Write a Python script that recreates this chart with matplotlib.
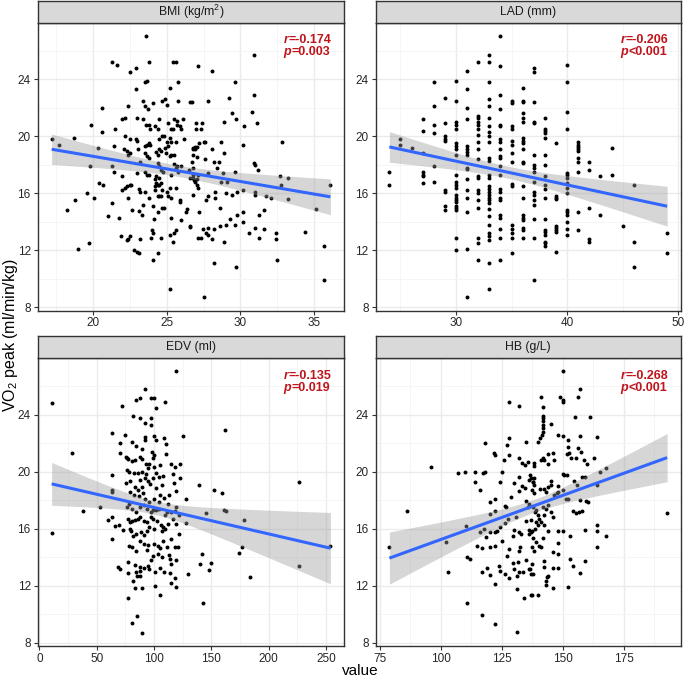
import numpy as np
import matplotlib
matplotlib.use('Agg')
import matplotlib.pyplot as plt
from matplotlib.ticker import MultipleLocator, FixedLocator

plt.rcParams['font.family'] = ['Liberation Sans', 'DejaVu Sans']
plt.rcParams['mathtext.fontset'] = 'custom'
plt.rcParams['mathtext.rm'] = 'Liberation Sans'
plt.rcParams['mathtext.it'] = 'Liberation Sans:italic'
plt.rcParams['mathtext.bf'] = 'Liberation Sans:bold'

# ---------------- data (value, VO2 peak) ----------------
bmi_points = [
    (23.6,27.0),(21.3,25.2),(21.6,25.0),(23.8,25.2),(25.4,25.2),(25.6,25.2),(22.5,24.5),(22.9,24.8),(23.5,23.8),(23.65,23.9),
    (25.8,23.8),(22.9,23.3),(25.2,23.4),(20.6,22.0),(22.4,22.1),(23.4,22.5),(23.55,22.1),(23.76,21.9),(24.1,22.3),(24.7,22.5),
    (24.9,22.6),(25.0,22.2),(25.8,22.5),(26.6,22.4),(19.9,20.8),(20.6,20.3),(21.5,20.5),(22.0,21.2),(22.2,21.3),(22.97,21.3),
    (23.4,21.2),(23.6,20.8),(23.8,20.8),(24.2,20.7),(24.4,20.5),(24.5,21.2),(23.9,20.5),(25.1,20.9),(25.3,20.5),(25.4,20.5),
    (25.5,21.2),(25.7,21.1),(25.7,20.8),(26.1,21.2),(25.9,20.7),(26.0,20.5),(17.2,19.8),(17.7,19.4),(18.7,19.9),(22.2,20.0),
    (22.5,19.8),(22.9,19.8),(23.0,19.7),(21.4,19.3),(20.35,19.2),(22.1,19.1),(22.3,19.0),(22.4,18.7),(22.5,18.8),(23.05,19.1),
    (23.5,19.3),(23.65,19.4),(23.8,19.5),(23.9,19.4),(23.5,18.8),(23.65,18.6),(23.78,18.5),(24.3,18.9),(24.4,18.7),(24.5,19.8),
    (24.7,20.0),(24.8,20.0),(25.0,19.6),(25.2,19.9),(25.3,19.6),(25.6,19.6),(26.2,19.8),(24.9,19.2),(25.1,19.3),(24.96,18.85),
    (25.2,18.6),(25.3,18.7),(25.5,18.7),(24.5,19.1),(24.6,19.0),(26.8,19.2),(26.8,19.1),(23.2,18.2),(19.8,17.9),(21.3,17.9),
    (21.4,17.5),(21.96,17.2),(23.0,17.4),(23.5,17.5),(23.65,17.3),(23.8,17.3),(24.4,18.1),(24.5,17.9),(24.3,17.2),(24.5,17.1),
    (24.6,17.6),(24.75,17.5),(25.3,17.25),(25.5,18.07),(25.6,17.8),(25.7,17.95),(25.8,17.5),(26.0,17.9),(26.5,17.6),(26.7,18.2),
    (26.8,17.8),(26.8,17.1),(26.85,16.9),(20.4,16.7),(20.7,16.6),(22.2,16.4),(22.3,16.5),(22.5,16.6),(22.6,16.6),(22.0,16.2),
    (22.4,15.7),(23.1,16.3),(23.2,16.1),(24.2,17.0),(24.2,16.5),(24.3,16.7),(24.4,16.6),(24.5,16.6),(24.6,16.7),(24.2,16.2),
    (24.4,15.8),(24.5,15.8),(24.65,16.2),(24.6,15.8),(25.0,16.1),(25.1,15.8),(25.25,16.35),(25.3,15.7),(25.6,16.4),(25.9,15.55),
    (25.9,15.4),(23.5,16.1),(19.6,16.0),(18.8,15.5),(20.1,15.7),(21.3,15.3),(18.25,14.8),(21.0,14.4),(21.8,14.3),(22.65,14.8),
    (23.1,14.75),(23.3,14.5),(23.4,15.2),(23.8,15.7),(24.05,15.1),(24.15,14.2),(24.4,14.7),(24.7,15.0),(24.8,15.0),(25.3,14.3),
    (26.0,14.1),(26.3,14.7),(26.35,14.9),(26.6,13.7),(21.9,13.0),(22.4,12.8),(22.5,13.0),(22.3,12.7),(23.2,12.8),(24.0,13.4),
    (24.1,13.2),(23.96,12.9),(24.6,12.9),(25.2,13.1),(25.5,13.2),(25.6,13.4),(25.4,12.6),(22.8,12.0),(22.96,11.9),(23.1,11.8),
    (19.0,12.1),(19.7,12.5),(24.4,11.8),(24.1,11.3),(25.2,9.3),
    (30.9,25.7),(27.1,24.9),(28.1,24.6),(29.6,23.8),(30.9,22.9),(26.7,22.4),(27.8,22.5),(29.2,22.7),(30.8,21.7),(29.4,21.6),
    (29.7,21.2),(28.9,21.0),(30.25,20.7),(31.1,20.9),(27.0,20.9),(27.4,20.9),(27.3,20.5),(27.0,20.5),(27.5,19.6),(27.6,19.6),
    (27.2,19.5),(26.94,19.25),(27.05,19.25),(26.9,19.1),(26.8,18.7),(27.05,18.55),(28.7,19.6),(28.1,19.1),(28.9,18.8),(30.2,19.4),
    (32.8,19.6),(27.6,18.4),(28.2,18.2),(28.55,18.2),(28.4,17.8),(30.9,18.1),(31.0,18.0),(31.2,17.6),(29.6,17.5),(27.8,17.4),
    (28.8,17.4),(26.8,17.25),(26.6,17.05),(27.05,17.0),(26.94,16.8),(27.05,16.55),(27.1,16.35),(26.8,15.9),(27.1,17.25),(28.7,16.8),
    (29.1,16.8),(32.7,17.2),(33.2,17.1),(32.75,16.6),(30.2,16.2),(31.0,16.1),(31.0,15.85),(29.8,16.1),(29.4,15.85),(29.0,16.0),
    (28.6,15.0),(28.3,16.1),(28.3,15.7),(27.8,15.8),(27.7,15.5),(27.2,14.7),(31.75,15.8),(32.1,15.7),(33.2,15.6),(35.1,14.9),
    (36.1,16.6),(29.8,14.5),(30.2,14.7),(29.3,14.2),(29.0,13.8),(29.6,13.8),(28.6,13.7),(28.2,13.5),(27.8,13.6),(27.45,13.5),
    (27.7,13.2),(27.8,13.05),(28.1,12.8),(27.1,12.9),(27.3,12.9),(26.6,13.65),(30.2,14.0),(30.6,13.2),(31.0,13.6),(31.25,12.9),
    (31.6,13.5),(31.25,14.5),(31.6,14.8),(32.4,13.2),(32.4,12.8),(34.4,13.3),(35.7,12.3),(28.9,12.6),(28.2,11.1),(29.7,10.8),
    (32.5,11.3),(35.7,9.9),(27.5,8.7),
]

lad_points = [
    (24,17.5),(24,16.6),(25,19.8),(25,19.4),(26,19.2),
    (27,21.2),(27,20.4),(27,18.8),(27,17.5),(27,17.3),(27,17.2),(27,16.7),
    (28,23.8),(28,22.1),(28,20.8),(28,20.2),(28,17.9),(28,16.8),
    (29,22.7),(29,20.9),(29,20.0),(29,19.8),(29,19.7),(29,16.2),(29,16.1),(29,15.1),(29,14.8),
    (30,23.9),(30,22.5),(30,21.0),(30,20.8),(30,20.5),(30,19.5),(30,19.3),(30,19.1),(30,18.7),(30,17.3),(30,16.8),
    (30,16.6),(30,16.4),(30,15.9),(30,15.7),(30,15.55),(30,15.4),(30,15.1),(30,15.0),(30,14.8),(30,12.9),(30,12.0),
    (31,24.6),(31,23.3),(31,22.0),(31,21.2),(31,19.3),(31,19.1),(31,18.9),(31,18.7),(31,17.8),(31,17.7),(31,17.0),
    (31,16.2),(31,15.7),(31,14.7),(31,12.1),(31,8.7),
    (32,25.2),(32,21.4),(32,21.25),(32,21.0),(32,20.8),(32,20.5),(32,20.1),(32,19.6),(32,19.1),(32,18.4),(32,17.2),
    (32,17.1),(32,16.2),(32,16.0),(32,15.5),(32,15.0),(32,12.9),(32,12.5),(32,11.3),
    (33,25.7),(33,25.2),(33,23.8),(33,22.6),(33,22.1),(33,21.3),(33,20.7),(33,20.3),(33,20.0),(33,19.6),(33,18.5),
    (33,18.3),(33,17.25),(33,17.1),(33,16.5),(33,16.3),(33,16.1),(33,15.9),(33,15.7),(33,15.5),(33,15.3),(33,14.9),
    (33,14.4),(33,13.8),(33,13.2),(33,13.0),(33,12.75),(33,11.1),(33,9.3),
    (34,27.0),(34,24.9),(34,22.9),(34,21.9),(34,20.8),(34,20.7),(34,19.8),(34,19.6),(34,19.1),(34,18.6),(34,18.5),
    (34,17.9),(34,17.3),(34,16.3),(34,16.1),(34,15.7),(34,15.55),(34,14.5),(34,14.3),(34,13.5),(34,12.9),(34,11.3),
    (35,22.5),(35,22.35),(35,20.7),(35,20.5),(35,19.7),(35,19.4),(35,18.8),(35,18.2),(35,16.65),(35,16.5),(35,13.8),
    (35,13.5),(35,13.2),(35,12.9),(35,11.8),
    (36,23.4),(36,22.5),(36,22.4),(36,21.6),(36,21.3),(36,21.0),(36,19.9),(36,19.7),(36,19.5),(36,19.1),(36,18.2),
    (36,18.1),(36,16.5),(36,15.7),(36,14.5),(36,14.3),(36,14.1),(36,13.6),(36,13.4),(36,12.9),
    (37,24.8),(37,24.5),(37,22.4),(37,21.0),(37,20.9),(37,18.7),(37,18.0),(37,17.8),(37,17.5),(37,16.8),(37,16.1),
    (37,15.9),(37,15.5),(37,15.2),(37,14.2),(37,12.9),(37,9.9),
    (38,21.3),(38,20.5),(38,20.4),(38,20.25),(38,19.9),(38,18.7),(38,18.0),(38,17.2),(38,16.6),(38,16.3),(38,15.7),
    (38,14.2),(38,13.4),(38,13.3),(38,13.1),(38,12.6),(38,12.5),(38,12.3),
    (39,19.5),(39,15.8),(39,15.7),(39,15.6),(39,13.7),(39,13.6),(39,13.4),(39,13.3),(39,11.9),
    (40,25.0),(40,23.8),(40,21.7),(40,20.5),(40,17.4),(40,17.25),(40,17.05),(40,16.7),(40,16.4),(40,16.0),(40,14.8),
    (40,14.7),(40,14.5),(40,14.0),(40,13.5),(40,13.1),
    (41,19.6),(41,19.4),(41,19.25),(41,19.1),(41,19.0),(41,18.5),(41,18.2),(41,17.5),(41,14.7),(41,13.4),
    (42,18.2),(42,17.6),(42,15.0),(42,12.8),(42,12.6),
    (43,17.2),(43,14.5),(44,19.2),(44,17.3),(45,13.7),(46,16.6),(46,12.6),(46,10.8),(49,13.2),(49,11.8),
]

edv_points = [
    (10.6,24.85),(119,27.06),(28.5,21.3),(38,17.25),(10.6,15.7),(52.9,17.5),(63.3,22.7),(71.7,24.6),(70,22.0),(70,21.3),
    (74.6,22.6),(63.3,19.8),(63.3,18.7),(63.3,18.6),(59.5,16.6),(63,16.8),(66,16.2),(69,16.3),(72.5,15.9),(63,15.3),
    (68.8,13.3),(70,13.2),(77.5,11.15),(81,9.4),(85,9.9),(89.6,8.7),(81.2,23.9),(88,23.8),(84.4,25.0),(87.6,25.2),
    (92.5,25.8),(96.9,25.2),(99.8,25.2),(109.6,24.9),(101.8,24.5),(96.9,23.8),(92.5,23.4),(97.7,23.3),(80.4,22.1),(84.4,21.8),
    (92.5,22.45),(92.5,22.2),(100.3,22.5),(101.8,22.2),(108.5,22.4),(125.3,22.5),(89.3,21.6),(98.0,21.41),(100.3,21.18),(110.5,21.93),
    (110.5,21.22),(99.5,20.94),(96.0,20.56),(93.1,20.56),(75.1,21.06),(76.3,20.94),(77.5,20.87),(80.4,20.75),(83.6,20.82),(87.3,21.06),
    (89.3,20.89),(114.5,20.56),(118.6,20.35),(122.4,20.54),(116.3,19.84),(122.6,19.53),(117.7,19.22),(119.2,18.64),(76.3,20.12),(78.0,19.95),
    (82.1,19.88),(85.9,19.88),(89.3,20.0),(91.7,19.53),(94.6,19.34),(96.6,19.13),(98.9,19.53),(101.8,19.88),(104.7,19.65),(108.2,19.69),
    (106.7,19.06),(101.8,18.87),(105.6,18.4),(75.1,19.18),(78.6,19.34),(83.3,18.92),(86.2,18.71),(87.3,19.41),(89.6,18.9),(93.1,19.81),
    (95.1,20.24),(99.8,20.35),(105.6,20.47),(79.2,18.59),(82.1,18.35),(86.7,18.28),(90.2,18.54),(92.5,18.12),(96.0,17.88),(100.3,18.12),
    (104.7,17.88),(108.5,18.16),(113.4,18.35),(111.9,17.76),(127.9,18.12),(127.9,16.42),(122.1,16.94),(119.2,17.53),(118.0,17.25),(114.8,17.18),
    (111.1,17.18),(109.3,17.0),(76.3,17.53),(78.0,17.76),(80.7,17.41),(84.4,17.18),(87.3,17.53),(90.8,17.65),(93.7,17.41),(96.9,17.18),
    (98.9,17.29),(101.8,17.29),(104.7,17.41),(77.2,16.71),(78.6,16.47),(80.4,16.56),(83.0,16.59),(85.9,16.71),(87.9,16.82),(90.8,16.52),
    (94.0,16.47),(96.9,16.82),(98.9,16.71),(102.4,16.52),(105.8,16.24),(108.2,16.12),(111.9,16.35),(116.3,16.71),(119.2,16.35),(78.6,16.0),
    (80.1,15.88),(81.5,15.53),(84.4,15.65),(88.8,15.76),(91.4,15.58),(93.7,15.88),(96.0,16.12),(100.3,16.0),(107.0,15.88),(109.9,16.0),
    (115.1,15.29),(121.5,15.65),(118.6,14.73),(120.9,14.73),(78.0,14.82),(81.0,14.71),(84.4,14.45),(87.3,15.18),(90.8,14.94),(94.6,14.87),
    (94.0,14.54),(99.8,14.96),(103.2,14.82),(105.3,14.64),(111.3,14.73),(108.2,15.18),(77.5,13.65),(83.8,13.48),(87.3,13.29),(87.3,13.06),
    (84.4,12.94),(85.0,12.66),(87.9,12.66),(90.8,13.22),(94.6,13.41),(96.9,13.84),(98.9,14.12),(96.0,13.18),(100.9,12.94),(103.5,14.21),
    (107.0,14.02),(109.0,12.94),(105.6,13.22),(113.4,14.16),(114.2,13.88),(114.8,13.53),(114.0,12.89),(119.2,13.84),(129.3,12.82),(118.6,12.52),
    (115.1,12.19),(119.2,11.95),(77.5,12.92),(81.5,12.31),(83.3,11.84),(89.3,11.84),(100.6,12.02),(105.3,11.34),
    (161.8,22.9),(138.9,19.1),(152.2,18.7),(158.9,18.5),(145.6,17.1),(160.9,17.3),(163,17.25),(178.6,16.6),(226.1,19.3),(226.1,13.4),
    (253.9,14.8),(141.8,14.2),(140.4,13.5),(149.3,13.6),(148.2,13.1),(174,14.3),(177.1,14.7),(183.5,12.6),(142.7,10.8),
]

hb_points = [
    (78.9,14.73),(86.0,17.25),(95.9,20.3),(103,13.0),(102,15.1),(110.2,16.2),(110.9,14.0),(111.9,13.9),(110.9,10.8),(107,19.9),
    (110,19.95),(114,19.95),(114,19.25),(116.1,18.7),(117.2,19.9),(118.1,20.0),(118.1,22.05),(121.9,21.3),(122.1,21.2),(128.1,24.9),
    (132.2,24.6),(128.1,22.35),(127.1,21.9),(128.2,21.2),(126.0,20.8),(125.2,20.0),(124.1,19.3),(135.0,22.1),(132.3,20.94),(133.4,20.59),
    (134.5,20.47),(136.0,20.7),(120.0,17.88),(122.1,18.12),(122.2,17.25),(120.0,17.01),(126.2,17.6),(126.7,17.53),(129.0,18.21),(130.0,19.22),
    (130.9,16.82),(132.0,19.62),(132.3,18.64),(133.4,19.01),(134.5,18.87),(135.0,17.93),(135.7,17.53),(136.8,19.79),(137.2,19.53),(137.7,19.29),
    (115.9,15.76),(117.8,16.0),(118.7,15.41),(120.0,15.76),(122.1,15.76),(123.0,15.86),(124.1,16.12),(125.2,15.18),(126.3,16.4),(127.5,16.66),
    (129.6,15.53),(130.1,15.95),(132.0,15.76),(133.1,15.65),(135.0,16.52),(136.1,15.9),(137.1,15.76),(137.7,15.34),(115.0,14.78),(117.0,14.66),
    (120.0,14.71),(122.1,14.82),(127.1,14.12),(128.2,14.59),(129.6,13.6),(130.1,13.18),(131.5,13.65),(132.3,14.47),(132.6,14.71),(133.9,12.94),
    (135.0,13.84),(136.1,13.18),(137.1,12.85),(119.1,13.25),(117.0,12.94),(120.0,12.78),(123.8,13.41),(124.1,13.06),(126.2,12.82),(128.2,12.54),
    (131.2,12.66),(132.0,12.94),(122.1,12.12),(131.1,11.81),(134.1,11.13),(137.2,11.34),(117.0,9.93),(122.1,9.34),(131.1,8.73),
    (150,27.06),(157.1,25.8),(156.2,25.25),(141.2,25.25),(149.1,25.25),(150,25.04),(150,24.87),(142.1,24.54),(142.1,23.93),(142.1,23.76),
    (142.1,23.53),(142.1,23.29),(142.1,23.06),(141.9,22.82),(141.5,22.59),(140.9,22.35),(140.1,22.12),(145.3,23.34),(155.2,23.84),(161.1,23.84),
    (148.2,22.59),(150,22.49),(152.3,22.24),(152.2,21.76),(157.1,22.54),(164.2,22.47),(151.8,21.25),(152.7,21.29),(156.5,21.65),(157.5,21.41),
    (155.4,20.99),(153.4,20.94),(158.8,20.82),(160.2,20.54),(162.9,20.94),(146.2,21.34),(144.2,21.25),(141.9,20.94),(141.2,20.82),(142.5,20.82),
    (144.2,20.54),(146.6,20.82),(138.1,20.59),(138.1,20.38),(138.1,19.53),(137.8,19.29),(136.4,19.41),(138.1,19.06),(137.5,18.71),(138.1,18.52),
    (150,19.81),(150.7,19.76),(152.0,19.76),(148.1,19.01),(145.3,19.34),(145.3,19.06),(144.2,18.96),(142.5,18.82),(143.2,18.59),(140.8,18.82),
    (146.6,18.4),(147.6,18.54),(148.2,18.59),(150,18.71),(151.4,18.12),(152.2,18.12),(154.5,19.34),(156.1,19.06),(158.1,19.65),(159.2,19.65),
    (165.2,19.95),(168.0,20.24),(164.2,19.06),(157.1,18.05),(159.5,17.98),(160.3,17.88),(136.4,17.76),(137.8,17.53),(139.1,17.29),(138.5,17.18),
    (139.8,16.94),(141.9,17.53),(143.2,17.41),(143.9,17.65),(145.3,17.18),(145.9,16.82),(142.5,16.94),(140.5,16.71),(141.2,16.47),(142.5,16.24),
    (139.1,16.47),(140.1,16.24),(138.5,16.0),(137.1,16.59),(137.5,15.88),(136.4,15.65),(144.2,15.84),(148.2,15.84),(150,15.84),(153.1,15.53),
    (159.1,15.95),(164.2,16.24),(164.2,15.84),(168.0,15.53),(164.2,14.73),(154.1,17.27),(155.4,17.08),(156.8,17.18),(157.9,17.27),(192.9,17.13),
    (141.9,15.34),(139.1,15.06),(137.5,14.71),(138.1,14.47),(140.5,14.82),(141.2,14.71),(148.2,15.01),(148.2,14.24),(146.2,14.35),(137.5,13.53),
    (136.8,13.18),(137.8,12.82),(142.5,13.76),(142.5,13.29),(146.2,13.25),(148.2,13.25),(153.1,13.86),(154.1,13.41),(157.1,12.92),(159.1,13.72),
    (143.5,12.64),(144.2,12.66),(143.2,12.35),(143.2,12.05),(146.2,11.84),(152.3,11.95),(137.5,11.34),(140.1,11.34),
]

panel_titles = ['BMI (kg/m$^2$)', 'LAD (mm)', 'EDV (ml)', 'HB (g/L)']
r_labels = ['=-0.174', '=-0.206', '=-0.135', '=-0.268']
p_labels = ['=0.003', '<0.001', '=0.019', '<0.001']
x_ticks = [[20, 25, 30, 35], [30, 40, 50], [0, 50, 100, 150, 200, 250], [75, 100, 125, 150, 175]]
y_ticks = [8, 12, 16, 20, 24]

# ---------------- layout ----------------
W, H = 685, 678
fig = plt.figure(figsize=(W / 100, H / 100), dpi=100)

def frac_rect(x0, y0, x1, y1):
    return [x0 / W, 1 - y1 / H, (x1 - x0) / W, (y1 - y0) / H]

cols = [(37.7, 344.3), (375.5, 681.0)]
rows = [(22.5, 310.5, 1.0), (358.0, 646.0, 336.0)]

all_points = [bmi_points, lad_points, edv_points, hb_points]
all_y = np.concatenate([np.array(p)[:, 1] for p in all_points])
ylo, yhi = all_y.min(), all_y.max()
ypad = 0.05 * (yhi - ylo)

border = '#333333'
tick_col = '#262626'
red = '#C0141C'

for i, pts in enumerate(all_points):
    pts = np.array(pts)
    xv, yv = pts[:, 0], pts[:, 1]
    r, c = divmod(i, 2)
    x0, x1 = cols[c]
    y0, y1, s0 = rows[r]
    ax = fig.add_axes(frac_rect(x0, y0, x1, y1))
    sax = fig.add_axes(frac_rect(x0, s0, x1, y0))

    # strip
    sax.set_facecolor('#D9D9D9')
    sax.set_xticks([]); sax.set_yticks([])
    for sp in sax.spines.values():
        sp.set_color(border); sp.set_linewidth(1.0)
    sax.text(0.5, 0.5, panel_titles[i], ha='center', va='center', fontsize=8.8,
             color='#1A1A1A', transform=sax.transAxes)

    # scatter
    ax.scatter(xv, yv, s=8, color='black', linewidths=0, zorder=3)

    # linear fit with 95% CI
    n = len(xv)
    b, a = np.polyfit(xv, yv, 1)
    xs = np.linspace(xv.min(), xv.max(), 80)
    yhat = a + b * xs
    resid = yv - (a + b * xv)
    s = np.sqrt(np.sum(resid ** 2) / (n - 2))
    sxx = np.sum((xv - xv.mean()) ** 2)
    se = s * np.sqrt(1 / n + (xs - xv.mean()) ** 2 / sxx)
    tval = 1.97
    ax.fill_between(xs, yhat - tval * se, yhat + tval * se, color='#999999', alpha=0.4,
                    linewidth=0, zorder=4)
    ax.plot(xs, yhat, color='#3366FF', lw=2.2, zorder=5, solid_capstyle='butt')

    xpad = 0.05 * (xv.max() - xv.min())
    ax.set_xlim(xv.min() - xpad, xv.max() + xpad)
    ax.set_ylim(ylo - ypad, yhi + ypad)

    xt = x_ticks[i]
    step = xt[1] - xt[0]
    ax.xaxis.set_major_locator(FixedLocator(xt))
    ax.xaxis.set_minor_locator(MultipleLocator(step / 2))
    ax.yaxis.set_major_locator(FixedLocator(y_ticks))
    ax.yaxis.set_minor_locator(MultipleLocator(2))
    ax.grid(which='major', color='#EBEBEB', lw=1.0, zorder=0)
    ax.grid(which='minor', color='#F4F4F4', lw=0.6, zorder=0)
    ax.set_axisbelow(True)
    ax.tick_params(which='major', length=3, width=0.8, color=border, labelsize=8.5,
                   labelcolor=tick_col, pad=2)
    ax.tick_params(which='minor', length=0)
    for sp in ax.spines.values():
        sp.set_color(border); sp.set_linewidth(1.0)

    # annotation
    tr = ax.text(0.802, 0.938, 'r', transform=ax.transAxes, ha='left', va='center',
                 fontsize=9, fontweight='bold', style='italic', color=red, zorder=6)
    ax.annotate(r_labels[i], xy=(1, 0.5), xycoords=tr, ha='left', va='center',
                fontsize=9, fontweight='bold', color=red, zorder=6)
    tp = ax.text(0.802, 0.897, 'p', transform=ax.transAxes, ha='left', va='center',
                 fontsize=9, fontweight='bold', style='italic', color=red, zorder=6)
    ax.annotate(p_labels[i], xy=(1, 0.5), xycoords=tp, ha='left', va='center',
                fontsize=9, fontweight='bold', color=red, zorder=6)

fig.text(11 / W, 1 - 335 / H, 'VO$_2$ peak (ml/min/kg)', rotation=90, ha='center',
         va='center', fontsize=11.5, color='black')
fig.text(360 / W, 1 - 671 / H, 'value', ha='center', va='center', fontsize=11, color='black')

fig.savefig('out.png', dpi=100)
